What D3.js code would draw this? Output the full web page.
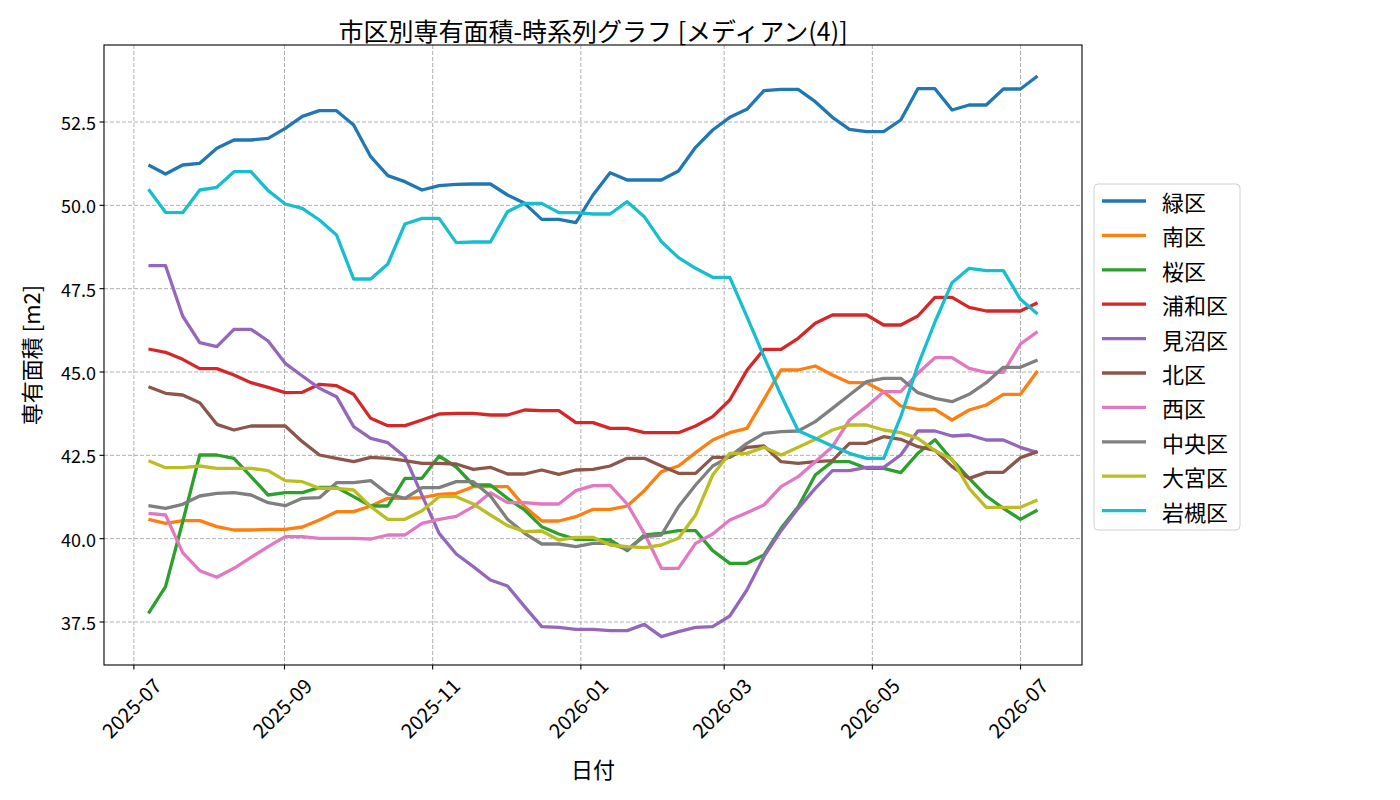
<!DOCTYPE html>
<html><head><meta charset="utf-8">
<script src="https://cdn.jsdelivr.net/npm/d3@7"></script>
<style>
body{margin:0;background:#fff}
svg{display:block}
text{font-family:"Noto Sans CJK JP","Noto Sans",sans-serif;fill:#000}
</style>
</head><body>
<svg id="chart" width="1400" height="800"></svg>
<script>
// ---------------- data ----------------
const wardNames = ["緑区","南区","桜区","浦和区","見沼区","北区","西区","中央区","大宮区","岩槻区"];
const firstDate = "2025-07-07";
const lastDate = "2026-07-08";
const midori = [51.21,50.94,51.21,51.26,51.71,51.96,51.96,52.01,52.31,52.67,
  52.84,52.84,52.41,51.46,50.89,50.71,50.46,50.59,50.63,
  50.64,50.64,50.31,50.06,49.58,49.58,49.48,50.31,50.98,
  50.76,50.76,50.76,51.03,51.74,52.26,52.64,52.88,53.44,53.48,
  53.48,53.11,52.64,52.28,52.21,52.21,52.56,53.50,53.50,
  52.86,53.01,53.01,53.49,53.49,53.88];
const minami = [40.58,40.46,40.54,40.54,40.36,40.26,40.26,40.28,40.28,40.35,
  40.56,40.81,40.81,40.98,41.21,41.21,41.23,41.33,41.36,
  41.56,41.56,41.56,40.96,40.53,40.53,40.66,40.88,40.88,
  40.98,41.44,42.01,42.18,42.58,42.96,43.18,43.31,44.18,45.06,
  45.06,45.18,44.91,44.68,44.68,44.41,43.98,43.88,43.88,
  43.56,43.86,44.01,44.33,44.33,45.03];
const sakura = [37.76,38.56,40.50,42.51,42.51,42.41,41.86,41.31,41.38,41.38,
  41.54,41.54,41.26,40.98,40.98,41.81,41.81,42.48,42.15,
  41.61,41.61,41.21,40.86,40.36,40.14,39.98,39.98,39.96,
  39.64,40.11,40.16,40.24,40.24,39.64,39.26,39.26,39.51,40.31,
  40.96,41.91,42.31,42.31,42.11,42.11,41.98,42.56,42.97,
  42.36,41.81,41.28,40.91,40.58,40.86];
const urawa = [45.69,45.59,45.38,45.10,45.10,44.91,44.68,44.54,44.38,44.39,
  44.63,44.59,44.33,43.61,43.39,43.39,43.56,43.74,43.76,
  43.76,43.71,43.71,43.86,43.84,43.84,43.48,43.48,43.31,
  43.31,43.18,43.18,43.18,43.38,43.66,44.16,45.05,45.68,45.68,
  46.01,46.46,46.71,46.71,46.71,46.41,46.41,46.68,47.24,
  47.24,46.94,46.83,46.83,46.83,47.08];
const minuma = [48.19,48.19,46.68,45.88,45.76,46.28,46.28,45.93,45.26,44.88,
  44.51,44.26,43.36,43.01,42.88,42.46,41.30,40.16,39.54,
  39.16,38.76,38.58,37.96,37.36,37.34,37.28,37.28,37.24,
  37.24,37.43,37.06,37.21,37.34,37.36,37.68,38.46,39.46,40.24,
  40.91,41.51,42.04,42.04,42.14,42.14,42.51,43.23,43.23,
  43.08,43.11,42.96,42.96,42.74,42.58];
const kita = [44.56,44.36,44.31,44.08,43.43,43.26,43.38,43.38,43.38,42.91,
  42.51,42.41,42.31,42.44,42.41,42.34,42.26,42.26,42.24,
  42.08,42.14,41.94,41.94,42.06,41.93,42.06,42.08,42.18,
  42.41,42.41,42.18,41.96,41.96,42.44,42.44,42.74,42.78,42.31,
  42.26,42.31,42.34,42.86,42.86,43.06,42.98,42.76,42.65,
  42.16,41.81,41.99,41.99,42.43,42.61];
const nishi = [40.76,40.71,39.58,39.04,38.84,39.11,39.44,39.76,40.06,40.06,
  40.01,40.01,40.01,39.99,40.11,40.11,40.46,40.58,40.67,
  40.96,41.38,41.08,41.08,41.04,41.04,41.44,41.59,41.60,
  41.04,40.16,39.11,39.11,39.86,40.14,40.56,40.78,41.01,41.56,
  41.86,42.31,42.76,43.56,43.96,44.41,44.41,44.96,45.43,
  45.43,45.11,44.99,44.99,45.84,46.21];
const chuo = [40.99,40.91,41.03,41.28,41.36,41.38,41.31,41.08,40.99,41.21,
  41.23,41.68,41.68,41.74,41.34,41.21,41.53,41.53,41.71,
  41.71,41.28,40.58,40.16,39.84,39.84,39.76,39.86,39.86,
  39.68,40.06,40.11,40.96,41.61,42.18,42.46,42.86,43.16,43.21,
  43.23,43.51,43.91,44.31,44.71,44.81,44.81,44.38,44.21,
  44.11,44.33,44.68,45.14,45.14,45.36];
const omiya = [42.34,42.13,42.13,42.18,42.11,42.11,42.11,42.04,41.74,41.71,
  41.51,41.51,41.46,40.96,40.58,40.58,40.84,41.26,41.26,
  41.04,40.71,40.39,40.21,40.23,39.96,40.04,40.04,39.81,
  39.76,39.73,39.81,40.01,40.71,41.91,42.56,42.56,42.74,42.51,
  42.74,42.98,43.26,43.41,43.41,43.26,43.18,43.01,42.64,
  42.38,41.51,40.94,40.94,40.94,41.16];
const iwatsuki = [50.48,49.79,49.78,50.46,50.54,51.01,51.01,50.44,50.04,49.91,
  49.56,49.11,47.79,47.79,48.24,49.44,49.61,49.61,48.88,
  48.90,48.90,49.81,50.06,50.06,49.78,49.78,49.74,49.74,
  50.11,49.66,48.91,48.43,48.11,47.84,47.84,46.66,45.46,44.30,
  43.24,43.01,42.78,42.56,42.41,42.41,43.66,45.20,46.50,
  47.68,48.11,48.04,48.04,47.18,46.74];
const seriesValues = [midori,minami,sakura,urawa,minuma,kita,nishi,chuo,omiya,iwatsuki];
const xTickLabels = ["2025-07","2025-09","2025-11","2026-01","2026-03","2026-05","2026-07"];
const yTickValues = [37.5,40.0,42.5,45.0,47.5,50.0,52.5];
const colors = ["#1f77b4","#ff7f0e","#2ca02c","#d62728","#9467bd","#8c564b","#e377c2","#7f7f7f","#bcbd22","#17becf"];

// ---------------- layout ----------------
const L = 104, R = 1082, T = 45, B = 665;
const svg = d3.select("#chart");

const parse = d3.timeParse("%Y-%m-%d");
const d0 = parse(firstDate), d1 = parse(lastDate);
const N = midori.length;
const dates = d3.range(N).map(i => new Date(+d0 + i * (d1 - d0) / (N - 1)));
const span = d1 - d0;
const x = d3.scaleTime().domain([new Date(+d0 - 0.05*span), new Date(+d1 + 0.05*span)]).range([L, R]);
const y = d3.scaleLinear().domain([36.21, 54.81]).range([B, T]);

const xTicks = xTickLabels.map(s => d3.timeParse("%Y-%m")(s));

// grid
const grid = svg.append("g");
grid.selectAll("line.gx").data(xTicks).enter().append("line")
  .attr("x1", d => x(d)).attr("x2", d => x(d)).attr("y1", T).attr("y2", B)
  .attr("stroke", "#b0b0b0").attr("stroke-width", 1).attr("stroke-dasharray", "4,2");
grid.selectAll("line.gy").data(yTickValues).enter().append("line")
  .attr("x1", L).attr("x2", R).attr("y1", d => y(d)).attr("y2", d => y(d))
  .attr("stroke", "#b0b0b0").attr("stroke-width", 1).attr("stroke-dasharray", "4,2");

// lines
const line = d3.line().x((d, i) => x(dates[i])).y(d => y(d));
svg.append("g").selectAll("path").data(seriesValues).enter().append("path")
  .attr("d", d => line(d)).attr("fill", "none")
  .attr("stroke", (d, i) => colors[i]).attr("stroke-width", 3.3)
  .attr("stroke-linejoin", "round").attr("stroke-linecap", "butt");

// frame
svg.append("rect").attr("x", L).attr("y", T).attr("width", R - L).attr("height", B - T)
  .attr("fill", "none").attr("stroke", "#000").attr("stroke-width", 1.1);

// y axis ticks
const yAx = svg.append("g");
yTickValues.forEach(v => {
  yAx.append("line").attr("x1", L - 4.5).attr("x2", L).attr("y1", y(v)).attr("y2", y(v))
    .attr("stroke", "#000").attr("stroke-width", 1.1);
  yAx.append("text").attr("x", L - 8).attr("y", y(v)).attr("text-anchor", "end")
    .attr("dominant-baseline", "central").attr("font-size", 18).text(d3.format(".1f")(v));
});

// x axis ticks
const xAx = svg.append("g");
const xfs = 20;
xTicks.forEach((d, i) => {
  const px = x(d);
  xAx.append("line").attr("x1", px).attr("x2", px).attr("y1", B).attr("y2", B + 4.5)
    .attr("stroke", "#000").attr("stroke-width", 1.1);
  const t = xAx.append("text").attr("font-size", xfs).attr("text-anchor", "middle")
    .attr("dominant-baseline", "central").text(xTickLabels[i]);
  const len = t.node().getComputedTextLength();
  const side = (len + xfs * 1.2) / Math.SQRT2;
  t.attr("transform", `translate(${px - 3},${B + 8 + side / 2}) rotate(-45)`);
});

// title & labels
svg.append("text").attr("x", (L + R) / 2).attr("y", 30).attr("text-anchor", "middle")
  .attr("dominant-baseline", "central").attr("font-size", 25)
  .text("市区別専有面積-時系列グラフ [メディアン(4)]");
svg.append("text").attr("x", (L + R) / 2).attr("y", 768).attr("text-anchor", "middle")
  .attr("dominant-baseline", "central").attr("font-size", 22).text("日付");
svg.append("text").attr("transform", `translate(30,${(T + B) / 2}) rotate(-90)`)
  .attr("text-anchor", "middle").attr("dominant-baseline", "central").attr("font-size", 22)
  .text("専有面積 [m2]");

// legend
const lg = svg.append("g");
lg.append("rect").attr("x", 1094).attr("y", 184).attr("width", 146).attr("height", 346)
  .attr("rx", 4).attr("fill", "#fff").attr("stroke", "#d0d0d0").attr("stroke-width", 1);
wardNames.forEach((name, i) => {
  const cy = 201 + i * 34.4;
  lg.append("line").attr("x1", 1102).attr("x2", 1146).attr("y1", cy).attr("y2", cy)
    .attr("stroke", colors[i]).attr("stroke-width", 3.3);
  lg.append("text").attr("x", 1162).attr("y", cy).attr("dominant-baseline", "central")
    .attr("font-size", 22).text(name);
});
</script>
</body></html>
